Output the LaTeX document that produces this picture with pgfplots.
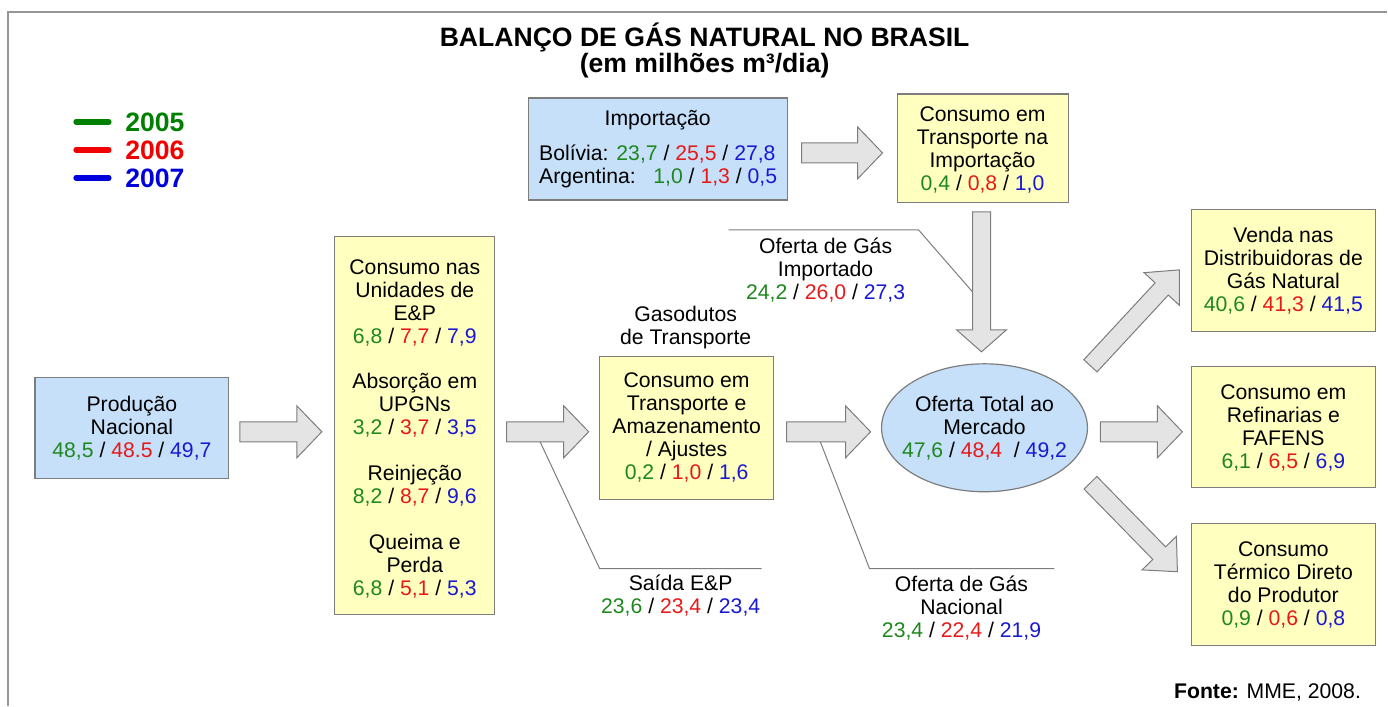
\documentclass[border=0pt]{standalone}
\usepackage{pgfplots}
\pgfplotsset{compat=1.18}
\usepackage{fontspec}
\setmainfont{Liberation Sans}

\definecolor{boxyellow}{RGB}{255,255,192}
\definecolor{boxblue}{RGB}{198,224,250}
\definecolor{arrowfill}{RGB}{228,228,228}
\definecolor{edge}{RGB}{125,125,125}
\definecolor{frame}{RGB}{150,150,150}
\definecolor{cg}{RGB}{30,135,30}
\definecolor{cr}{RGB}{230,25,25}
\definecolor{cb}{RGB}{25,25,210}
\definecolor{lg}{RGB}{0,128,0}
\definecolor{lr}{RGB}{240,0,0}
\definecolor{lb}{RGB}{0,0,220}

% three years: 2005 / 2006 / 2007
\newcommand{\vals}[3]{\textcolor{cg}{#1} / \textcolor{cr}{#2} / \textcolor{cb}{#3}}

\begin{document}
\begin{tikzpicture}[
  t/.style={font=\fontsize{10.6}{11.5}\selectfont, align=center, inner sep=0pt},
  big/.style={font=\fontsize{13.3}{14}\selectfont\bfseries, inner sep=0pt},
  box/.style={draw=edge, line width=0.6pt},
]
\begin{axis}[
  width=694pt, height=353pt, scale only axis,
  xmin=0, xmax=1388, ymin=0, ymax=706, y dir=reverse,
  hide axis, clip=false,
]
\path (axis cs:0,0) rectangle (axis cs:1388,706);

% frame
\addplot[draw=frame, line width=0.7pt] coordinates {(8,706) (8,12) (1388,12)};

% title
\node[big] at (axis cs:705,37) {BALANÇO DE GÁS NATURAL NO BRASIL};
\node[big] at (axis cs:705,65.5) {(em milhões m³/dia)};

% legend
\addplot[draw=lg, line width=2.6pt, line cap=round] coordinates {(76,122) (109,122)};
\addplot[draw=lr, line width=2.6pt, line cap=round] coordinates {(76,150) (109,150)};
\addplot[draw=lb, line width=2.6pt, line cap=round] coordinates {(76,178) (109,178)};
\node[big, anchor=west, text=lg] at (axis cs:125,122) {2005};
\node[big, anchor=west, text=lr] at (axis cs:125,150) {2006};
\node[big, anchor=west, text=lb] at (axis cs:125,178) {2007};

% leader lines
\addplot[draw=edge, line width=0.5pt] coordinates {(729,230) (919,230) (973,292)};
\addplot[draw=edge, line width=0.5pt] coordinates {(538,437) (600,569) (762,569)};
\addplot[draw=edge, line width=0.5pt] coordinates {(818,435) (870,569) (1055,569)};

% block arrows
\addplot[fill=arrowfill, draw=edge, line width=0.5pt] coordinates {
  (802,143) (858,143) (858,127) (883,153) (858,179) (858,163) (802,163)} -- cycle;
\addplot[fill=arrowfill, draw=edge, line width=0.5pt] coordinates {
  (240,422) (297,422) (297,406) (322,432) (297,458) (297,442) (240,442)} -- cycle;
\addplot[fill=arrowfill, draw=edge, line width=0.5pt] coordinates {
  (507,422) (564,422) (564,406) (589,432) (564,458) (564,442) (507,442)} -- cycle;
\addplot[fill=arrowfill, draw=edge, line width=0.5pt] coordinates {
  (787,422) (846,422) (846,406) (871,432) (846,458) (846,442) (787,442)} -- cycle;
\addplot[fill=arrowfill, draw=edge, line width=0.5pt] coordinates {
  (1101,422) (1158,422) (1158,406) (1183,432) (1158,458) (1158,442) (1101,442)} -- cycle;
\addplot[fill=arrowfill, draw=edge, line width=0.5pt] coordinates {
  (973,212) (991,212) (991,330) (1007,330) (982,352) (957,330) (973,330)} -- cycle;
\addplot[fill=arrowfill, draw=edge, line width=0.5pt] coordinates {
  (1084.4,359.9) (1155.7,283.0) (1144.7,272.8) (1180,270) (1179.9,305.4) (1168.9,295.2) (1097.6,372.1)} -- cycle;
\addplot[fill=arrowfill, draw=edge, line width=0.5pt] coordinates {
  (1097.4,476.7) (1166.2,547.1) (1177.0,536.6) (1178,572) (1142.6,570.2) (1153.4,559.7) (1084.6,489.3)} -- cycle;

% boxes
\draw[box, fill=boxblue] (axis cs:529,98) rectangle (axis cs:788,200);
\draw[box, fill=boxyellow] (axis cs:898,94) rectangle (axis cs:1069,203);
\draw[box, fill=boxblue] (axis cs:35,378) rectangle (axis cs:229,479);
\draw[box, fill=boxyellow] (axis cs:335,237) rectangle (axis cs:495,615);
\draw[box, fill=boxyellow] (axis cs:600,357) rectangle (axis cs:774,500);
\draw[box, fill=boxblue] (axis cs:985,428) ellipse [x radius=51.5pt, y radius=32pt];
\draw[box, fill=boxyellow] (axis cs:1192,210) rectangle (axis cs:1376,332);
\draw[box, fill=boxyellow] (axis cs:1192,367) rectangle (axis cs:1376,488);
\draw[box, fill=boxyellow] (axis cs:1192,524) rectangle (axis cs:1376,646);

% texts
\node[t] at (axis cs:658,120) {Importação};
\node[t, anchor=west, align=left] at (axis cs:539,166.5)
  {Bolívia: \vals{23,7}{25,5}{27,8}\\Argentina:\ \ \ \vals{1,0}{1,3}{0,5}};
\node[t] at (axis cs:983,150.5) {Consumo em\\Transporte na\\Importação\\\vals{0,4}{0,8}{1,0}};
\node[t] at (axis cs:826,270) {Oferta de Gás\\Importado\\\vals{24,2}{26,0}{27,3}};
\node[t] at (axis cs:132,428) {Produção\\Nacional\\\vals{48,5}{48.5}{49,7}};
\node[t] at (axis cs:415,303.5) {Consumo nas\\Unidades de\\E\&P\\\vals{6,8}{7,7}{7,9}};
\node[t] at (axis cs:415,405) {Absorção em\\UPGNs\\\vals{3,2}{3,7}{3,5}};
\node[t] at (axis cs:415,485.5) {Reinjeção\\\vals{8,2}{8,7}{9,6}};
\node[t] at (axis cs:415,566) {Queima e\\Perda\\\vals{6,8}{5,1}{5,3}};
\node[t] at (axis cs:686,327.5) {Gasodutos\\de Transporte};
\node[t] at (axis cs:687,428) {Consumo em\\Transporte e\\Amazenamento\\/ Ajustes\\\vals{0,2}{1,0}{1,6}};
\node[t] at (axis cs:681,595.5) {Saída E\&P\\\vals{23,6}{23,4}{23,4}};
\node[t] at (axis cs:985,428) {Oferta Total ao\\Mercado\\\textcolor{cg}{47,6} / \textcolor{cr}{48,4}\ \ / \textcolor{cb}{49,2}};
\node[t] at (axis cs:962,608) {Oferta de Gás\\Nacional\\\vals{23,4}{22,4}{21,9}};
\node[t] at (axis cs:1284,270.5) {Venda nas\\Distribuidoras de\\Gás Natural\\\vals{40,6}{41,3}{41,5}};
\node[t] at (axis cs:1284,428) {Consumo em\\Refinarias e\\FAFENS\\\vals{6,1}{6,5}{6,9}};
\node[t] at (axis cs:1284,585.5) {Consumo\\Térmico Direto\\do Produtor\\\vals{0,9}{0,6}{0,8}};
\node[t, anchor=east] at (axis cs:1362,693) {\textbf{Fonte:} MME, 2008.};
\end{axis}
\end{tikzpicture}
\end{document}
